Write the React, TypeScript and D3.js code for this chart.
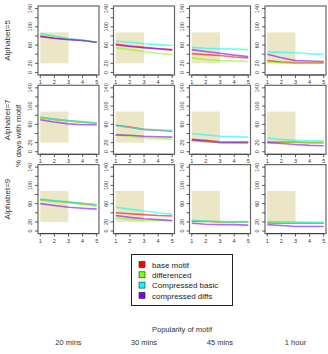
import React from 'react';
import * as d3 from 'd3';

const alphabets = ['Alphabet=5', 'Alphabet=7', 'Alphabet=9'];
const windows = ['20 mins', '30 mins', '45 mins', '1 hour'];
const popularity = [1, 2, 3, 4, 5];
const yTicks = [0, 20, 40, 60, 80, 100, 120, 140];
const yTickLabels = [0, 20, 60, 100, 140];
const seriesNames = ['base motif', 'differenced', 'Compressed basic', 'compressed diffs'];
const seriesColors = ['#ff0000', '#80ff00', '#00ffff', '#8000ff'];
// shaded zone: popularity 1..3, % days 20..88
const zoneX = [1, 3];
const zoneY = [20, 88];

// [row][col] -> values at popularity 1..5
const baseMotif = [
  [[79, 75, 73, 70, 66], [62, 58, 55, 52, 50], [41, 39, 37, 34, 32], [26, 23, 21, 21, 21]],
  [[75, 71, 68, 65, 63], [58, 54, 49, 47, 45], [27, 25, 22, 21, 21], [22, 21, 21, 20, 20]],
  [[69, 66, 63, 60, 57], [40, 38, 36, 34, 33], [21, 21, 20, 20, 20], [18, 17, 17, 17, 17]],
];
const differenced = [
  [[84, 79, 74, 70, 66], [54, 50, 46, 42, 39], [32, 28, 26, 25, 24], [23, 21, 20, 20, 20]],
  [[74, 71, 67, 64, 62], [37, 34, 31, 29, 27], [24, 22, 21, 20, 20], [23, 21, 21, 20, 20]],
  [[68, 65, 62, 58, 54], [29, 25, 23, 23, 22], [24, 22, 20, 20, 20], [20, 19, 18, 18, 18]],
];
const compressedBasic = [
  [[86, 80, 74, 71, 66], [69, 66, 63, 61, 59], [55, 53, 52, 51, 50], [45, 44, 43, 41, 39]],
  [[76, 72, 68, 66, 63], [57, 53, 49, 48, 47], [40, 37, 34, 33, 32], [30, 27, 25, 24, 24]],
  [[70, 67, 64, 61, 58], [52, 48, 44, 40, 37], [23, 22, 21, 20, 20], [21, 20, 20, 19, 19]],
];
const compressedDiffs = [
  [[79, 75, 72, 70, 66], [60, 57, 54, 52, 49], [50, 46, 42, 38, 35], [40, 32, 26, 25, 24]],
  [[70, 65, 61, 59, 59], [37, 36, 34, 33, 32], [26, 23, 20, 20, 20], [20, 18, 16, 14, 13]],
  [[60, 56, 52, 50, 48], [34, 30, 27, 25, 23], [17, 15, 14, 14, 13], [14, 12, 10, 10, 10]],
];
const allSeries = [baseMotif, differenced, compressedBasic, compressedDiffs];

const W = 328;
const H = 354;
const colLeft = [38, 113.5, 189.5, 265];
const rowTop = [6, 85.3, 164.6];
const pw = 61;
const ph = 69;
const font = 'Liberation Sans, Arial, sans-serif';

const Panel: React.FC<{ r: number; c: number }> = ({ r, c }) => {
  const x0 = colLeft[c];
  const y0 = rowTop[r];
  // R style 4% padding around the data range
  const x = d3.scaleLinear().domain([1 - 0.16, 5 + 0.16]).range([x0, x0 + pw]);
  const y = d3.scaleLinear().domain([-5.6, 145.6]).range([y0 + ph, y0]);
  const line = d3.line<number>().x((_, i) => x(popularity[i])).y(d => y(d));
  const bottom = y0 + ph;

  return (
    <g>
      <rect x={x(zoneX[0])} y={y(zoneY[1])} width={x(zoneX[1]) - x(zoneX[0])}
        height={y(zoneY[0]) - y(zoneY[1])} fill="#ebe7c6" />
      {allSeries.map((s, k) => (
        <path key={k} d={line(s[r][c]) || ''} fill="none" stroke={seriesColors[k]}
          strokeWidth={1.6} strokeOpacity={0.6} />
      ))}
      <rect x={x0} y={y0} width={pw} height={ph} fill="none" stroke="#666" strokeWidth={1.2} />
      {/* y axis */}
      {yTicks.map(t => (
        <line key={t} x1={x0 - 3} x2={x0} y1={y(t)} y2={y(t)} stroke="#333" strokeWidth={0.8} />
      ))}
      {yTickLabels.map(t => (
        <text key={t} transform={`translate(${x0 - 6},${y(t)}) rotate(-90)`} textAnchor="middle"
          fontSize={5.5} fontFamily={font} fill="#333">{t}</text>
      ))}
      {/* x axis */}
      <line x1={x(1)} x2={x(5)} y1={bottom} y2={bottom} stroke="#333" strokeWidth={0.8} />
      {popularity.map(p => (
        <g key={p}>
          <line x1={x(p)} x2={x(p)} y1={bottom} y2={bottom + 3} stroke="#333" strokeWidth={0.8} />
          <text x={x(p)} y={bottom + 9} textAnchor="middle" fontSize={5.5} fontFamily={font} fill="#333">{p}</text>
        </g>
      ))}
    </g>
  );
};

export default function App() {
  const rows = d3.range(alphabets.length);
  const cols = d3.range(windows.length);
  return (
    <svg width={W} height={H} style={{ position: 'absolute', left: 0, top: 0, background: '#fff' }}>
      {rows.map(r => cols.map(c => <Panel key={`${r}-${c}`} r={r} c={c} />))}
      {alphabets.map((a, r) => (
        <text key={a} transform={`translate(10,${rowTop[r] + ph / 2}) rotate(-90)`} textAnchor="middle"
          fontSize={8} fontFamily={font} fill="#333">{a}</text>
      ))}
      <text transform={`translate(21,${rowTop[1] + ph / 2 + 16}) rotate(-90)`} textAnchor="middle"
        fontSize={8} fontFamily={font} fill="#333">% days with motif</text>
      {/* legend */}
      <rect x={131.5} y={254.5} width={101} height={51} fill="#fff" stroke="#222" strokeWidth={1} />
      {seriesNames.map((n, k) => (
        <g key={n} transform={`translate(0,${265 + k * 10.3})`}>
          <rect x={139} y={-3.5} width={6} height={6} fill={seriesColors[k]} stroke="#222" strokeWidth={0.6} />
          <text x={152} y={2.8} fontSize={8} fontFamily={font} fill="#222">{n}</text>
        </g>
      ))}
      <text x={182} y={332} textAnchor="middle" fontSize={7.5} fontFamily={font} fill="#333">Popularity of motif</text>
      {windows.map((w, c) => (
        <text key={w} x={colLeft[c] + pw / 2} y={345} textAnchor="middle" fontSize={7.5}
          fontFamily={font} fill="#333">{w}</text>
      ))}
    </svg>
  );
}
